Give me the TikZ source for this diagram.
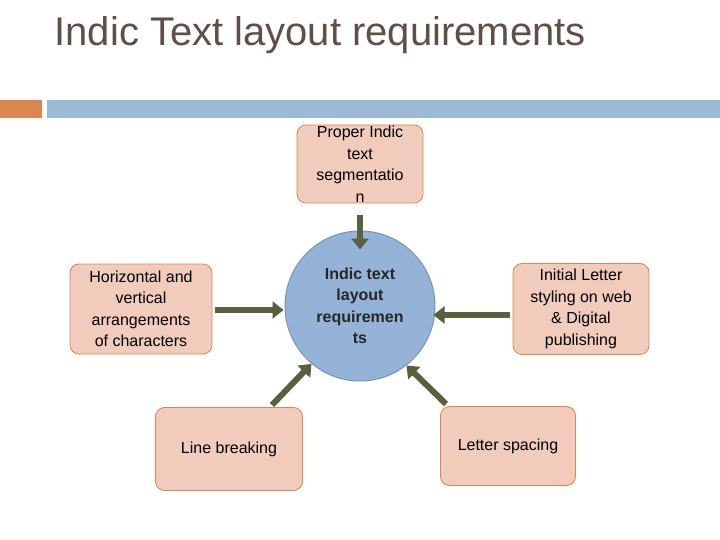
\documentclass[tikz,border=0pt]{standalone}
\usepackage{fontspec}
\setmainfont{Liberation Sans}
\usetikzlibrary{arrows.meta}
\definecolor{titlec}{HTML}{5E5049}
\definecolor{boxfill}{HTML}{F1CBBC}
\definecolor{boxline}{HTML}{D9874E}
\definecolor{circfill}{HTML}{95B3D7}
\definecolor{circline}{HTML}{7C93AE}
\definecolor{arr}{HTML}{58603F}
\definecolor{barblue}{HTML}{9CBAD6}
\definecolor{barorange}{HTML}{DB8550}
\begin{document}
\begin{tikzpicture}[x=1pt,y=-1pt,
  box/.style={draw=boxline,fill=boxfill,rounded corners=9pt,line width=0.8pt,align=center,font=\fontsize{16}{21.5}\selectfont,inner sep=1pt},
  bigarrow/.style={draw=arr,line width=6pt,-{Triangle[length=11pt,width=17pt]}}]
\useasboundingbox (0,0) rectangle (720,540);
\node[anchor=west,text=titlec,font=\fontsize{40}{44}\selectfont] (title) at (51,35) {Indic Text layout requirements};
\fill[barorange] (0,100) rectangle (42,118);
\fill[barblue] (47,100) rectangle (720,118);
\node[circle,draw=circline,line width=1pt,fill=circfill,minimum size=150pt,inner sep=0pt,align=center,font=\fontsize{16}{21.5}\selectfont\bfseries,text=black!85] (c) at (360,306) {Indic text\\layout\\requiremen\\ts};
\node[box,minimum width=126pt,minimum height=74pt] (top) at (360,164) {Proper Indic\\text\\segmentatio\\n};
\node[box,minimum width=142pt,minimum height=90pt] (left) at (141,309) {Horizontal and\\vertical\\arrangements\\of characters};
\node[box,minimum width=136pt,minimum height=91pt] (right) at (581,309) {Initial Letter\\styling on web\\\& Digital\\publishing};
\node[box,minimum width=147pt,minimum height=83pt] (bl) at (229,449) {Line breaking};
\node[box,minimum width=135pt,minimum height=79pt] (br) at (508,446) {Letter spacing};
\draw[bigarrow] ([yshift=-12pt]top.south) -- ([yshift=-19pt]c.north);
\draw[bigarrow] ([xshift=3pt,yshift=-1pt]left.east) -- ([xshift=-1pt,yshift=-4pt]c.west);
\draw[bigarrow] ([xshift=-3pt,yshift=-6pt]right.west) -- ([xshift=-2pt,yshift=-9pt]c.east);
\draw[bigarrow] (272,405) -- (c.-130);
\draw[bigarrow] (446,404) -- (c.-52);
\end{tikzpicture}
\end{document}
